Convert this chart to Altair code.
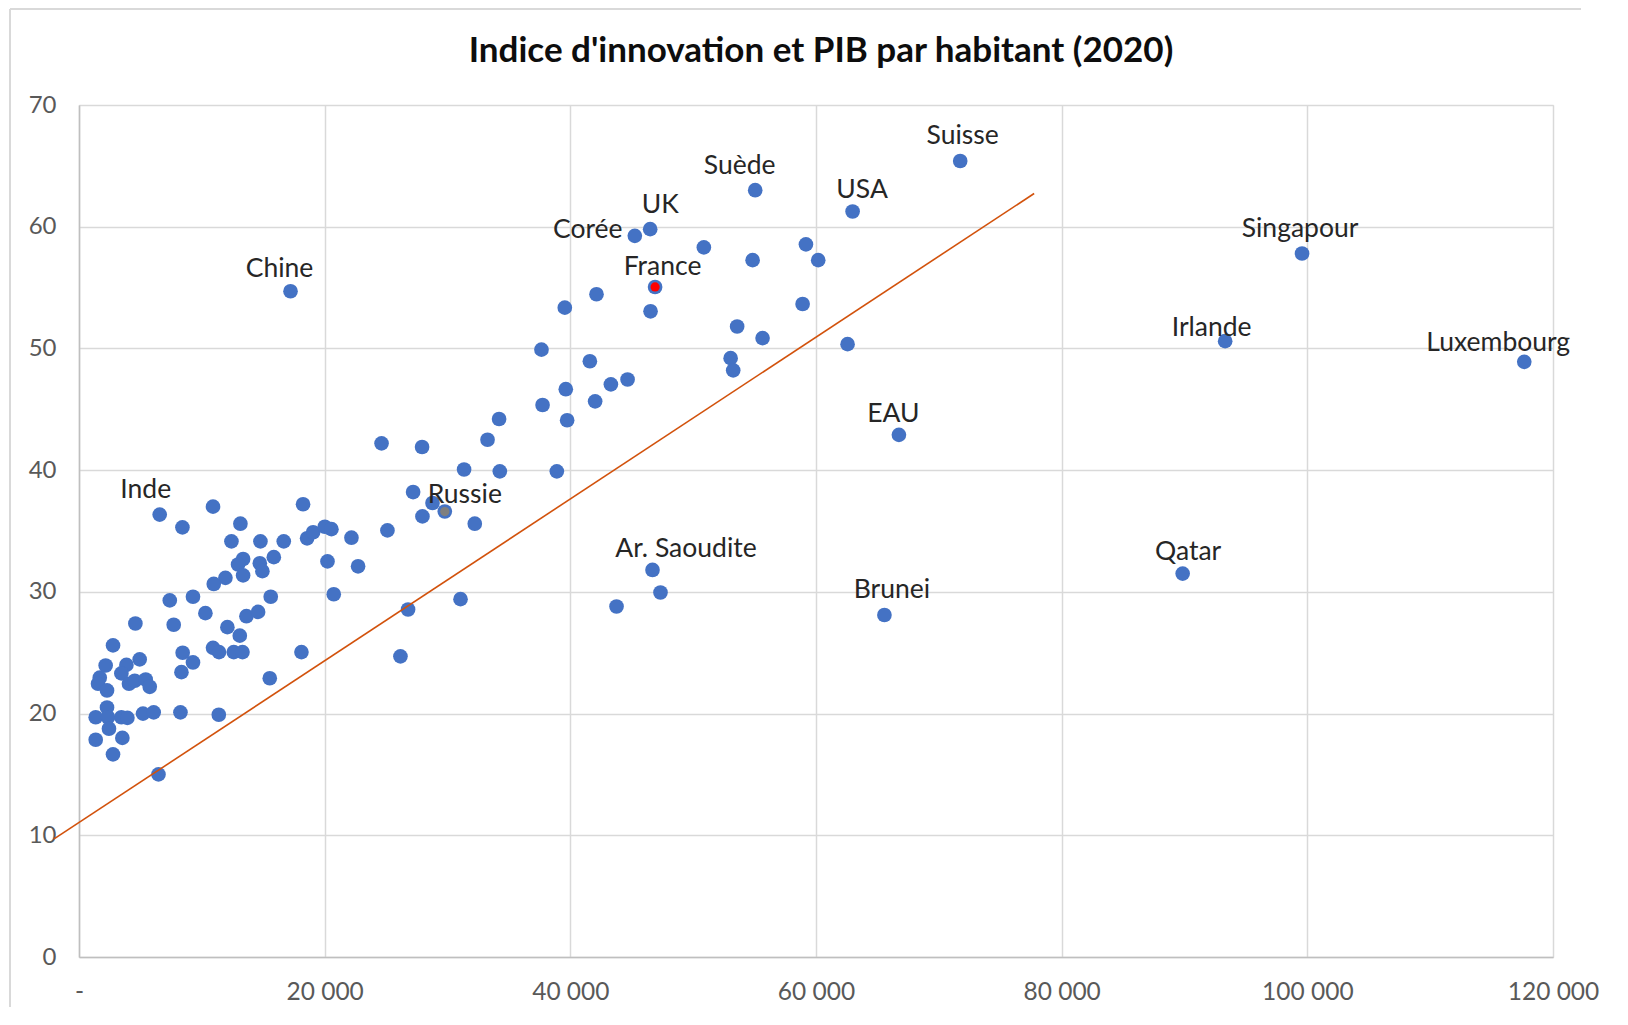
import altair as alt
import pandas as pd

TITLE = "Indice d'innovation et PIB par habitant (2020)"

# Unlabelled countries: GDP per capita (USD) and innovation index
pib = [4590, 7710, 12080, 13090, 2770, 4940, 8440, 9280, 8340, 10910, 11400, 12600, 13310,
       2170, 1690, 1550, 2280, 3860, 3450, 4070, 4540, 5430, 5760,
       2280, 1360, 2360, 2440, 3450, 3940, 5210, 6080, 8260, 11380, 1360, 3530, 2770, 6470, 15530,
       8420, 10910, 13140, 12410, 14770, 16670, 18240, 18570, 19060, 13360, 12950, 14720, 14930,
       15860, 13360, 11920, 10970, 7390, 9280, 15610, 10290, 13630, 14580,
       24630, 27930, 31350, 34260, 27200, 28780, 27960, 32220, 25110, 20010, 20550, 22180, 20230,
       22720, 20740, 31060, 26790, 26170, 18110, 33260,
       42130, 39550, 46530, 37650, 41590, 39630, 43300, 44660, 37740, 42020, 39740, 34200, 38900,
       47340, 43760,
       50870, 54840, 59180, 60180, 58910, 53580, 55650, 62570, 53050, 53260]
indice = [27.4, 27.3, 27.1, 26.4, 25.6, 24.45, 25.0, 24.2, 23.4, 25.4, 25.05, 25.05, 25.05,
          23.95, 22.95, 22.45, 21.9, 24.0, 23.3, 22.45, 22.7, 22.8, 22.2,
          20.5, 19.7, 19.7, 18.75, 19.7, 19.65, 20.0, 20.1, 20.1, 19.9, 17.85, 18.0, 16.65, 15.0, 22.9,
          35.3, 37.0, 35.6, 34.15, 34.15, 34.15, 37.2, 34.4, 34.9, 32.7, 32.25, 32.35, 31.7,
          32.85, 31.35, 31.15, 30.65, 29.3, 29.6, 29.6, 28.25, 28.0, 28.35,
          42.2, 41.9, 40.05, 39.9, 38.2, 37.3, 36.2, 35.6, 35.05, 35.35, 35.15, 34.45, 32.5,
          32.1, 29.8, 29.4, 28.55, 24.7, 25.05, 42.5,
          54.45, 53.35, 53.05, 49.9, 48.95, 46.65, 47.05, 47.45, 45.35, 45.65, 44.1, 44.2, 39.9,
          29.95, 28.8,
          58.3, 57.25, 58.55, 57.25, 53.65, 51.8, 50.85, 50.35, 49.2, 48.2]

# Labelled countries
lab_names = ["Chine", "Inde", "Russie", "Corée", "UK", "France", "Suède", "USA", "Suisse",
             "Singapour", "Irlande", "Luxembourg", "EAU", "Ar. Saoudite", "Qatar", "Brunei"]
lab_pib = [17220, 6570, 29780, 45250, 46500, 46900, 55050, 62980, 71740,
           99570, 93310, 117660, 66750, 46690, 89850, 65570]
lab_indice = [54.7, 36.35, 36.6, 59.25, 59.8, 55.05, 63.0, 61.25, 65.4,
              57.8, 50.6, 48.9, 42.9, 31.8, 31.5, 28.1]

# Highlighted markers (inner colour)
highlight_names = ["France", "Russie"]
highlight_colors = ["#FF0000", "#7F7F7F"]

# Linear trend line end points
trend_pib = [-2060, 77760]
trend_indice = [9.68, 62.73]

x_ticks = [0, 20000, 40000, 60000, 80000, 100000, 120000]
y_ticks = [0, 10, 20, 30, 40, 50, 60, 70]

# label offsets (pixels) relative to their point
LABEL_OFFSETS = {
    "Chine": (-11, -22), "Inde": (-14, -25), "Russie": (20, -16.5), "Corée": (-47, -5.5),
    "UK": (10, -24), "France": (7.5, -20), "Suède": (-15.5, -24), "USA": (9.5, -21.5),
    "Suisse": (2.5, -25), "Singapour": (-2, -24), "Irlande": (-13.5, -13.5),
    "Luxembourg": (-26, -18.5), "EAU": (-5.5, -20.5), "Ar. Saoudite": (33.5, -21),
    "Qatar": (5.5, -22), "Brunei": (7.5, -25),
}

FONT = "Lato"
BLUE = "#4472C4"

pts = pd.DataFrame({"pib": pib + lab_pib, "indice": indice + lab_indice})
labs = pd.DataFrame({"name": lab_names, "pib": lab_pib, "indice": lab_indice})
hl = labs[labs["name"].isin(highlight_names)].copy()
hl["color"] = hl["name"].map(dict(zip(highlight_names, highlight_colors)))
trend = pd.DataFrame({"pib": trend_pib, "indice": trend_indice})

xscale = alt.Scale(domain=[0, 120000], nice=False, zero=False)
yscale = alt.Scale(domain=[0, 70], nice=False, zero=False)

xaxis = alt.Axis(values=x_ticks, title=None, grid=True, gridColor="#d9d9d9", gridWidth=1.5,
                 domainColor="#bfbfbf", domainWidth=1.5, ticks=False, tickSize=0,
                 labelPadding=35, labelBaseline="middle", labelFont=FONT, labelFontSize=24.5,
                 labelColor="#595959", labelFlush=False, labelOverlap=False,
                 labelExpr="datum.value == 0 ? '-' : replace(format(datum.value, ','), ',', ' ')")
yaxis = alt.Axis(values=y_ticks, title=None, grid=True, gridColor="#d9d9d9", gridWidth=1.5,
                 domainColor="#bfbfbf", domainWidth=1.5, ticks=False, tickSize=0,
                 labelPadding=23, labelFont=FONT, labelFontSize=24, labelColor="#595959",
                 labelFlush=False, labelOverlap=False)

base_x = alt.X("pib:Q", scale=xscale, axis=xaxis)
base_y = alt.Y("indice:Q", scale=yscale, axis=yaxis)

points = alt.Chart(pts).mark_circle(size=215, color=BLUE, opacity=1).encode(x=base_x, y=base_y)

inner = alt.Chart(hl).mark_circle(size=85, opacity=1).encode(
    x=alt.X("pib:Q", scale=xscale), y=alt.Y("indice:Q", scale=yscale),
    color=alt.Color("color:N", scale=None))

line = alt.Chart(trend).mark_line(color="#D2520C", strokeWidth=1.6, clip=False).encode(
    x=alt.X("pib:Q", scale=xscale), y=alt.Y("indice:Q", scale=yscale))

# decorative chart-area border
border_top = alt.Chart(pts).mark_rule(color="#d9d9d9", strokeWidth=2).encode(
    x=alt.value(-69), x2=alt.value(1502), y=alt.value(-96))
border_left = alt.Chart(pts).mark_rule(color="#d9d9d9", strokeWidth=2).encode(
    x=alt.value(-69), y=alt.value(-96), y2=alt.value(905))

layers = [border_top, border_left, points, inner, line]
for name in lab_names:
    dx, dy = LABEL_OFFSETS[name]
    layers.append(
        alt.Chart(labs[labs["name"] == name]).mark_text(
            dx=dx, dy=dy, font=FONT, fontSize=26.5, color="#262626",
            align="center", baseline="middle").encode(
            x=alt.X("pib:Q", scale=xscale), y=alt.Y("indice:Q", scale=yscale), text="name:N")
    )

chart = alt.layer(*layers).properties(
    width=1474, height=852,
    padding={"left": 71, "top": 97, "right": 50, "bottom": 50},
    autosize=alt.AutoSizeParams(type="none"),
    title=alt.TitleParams(TITLE, font=FONT, fontSize=35, fontWeight="bold", color="#0d0d0d",
                          anchor="middle", frame="group", dx=5, offset=-78, baseline="middle"),
).configure_view(stroke=None).configure(font=FONT)

chart.save("out.html", embed_options={"renderer": "svg", "actions": False})
